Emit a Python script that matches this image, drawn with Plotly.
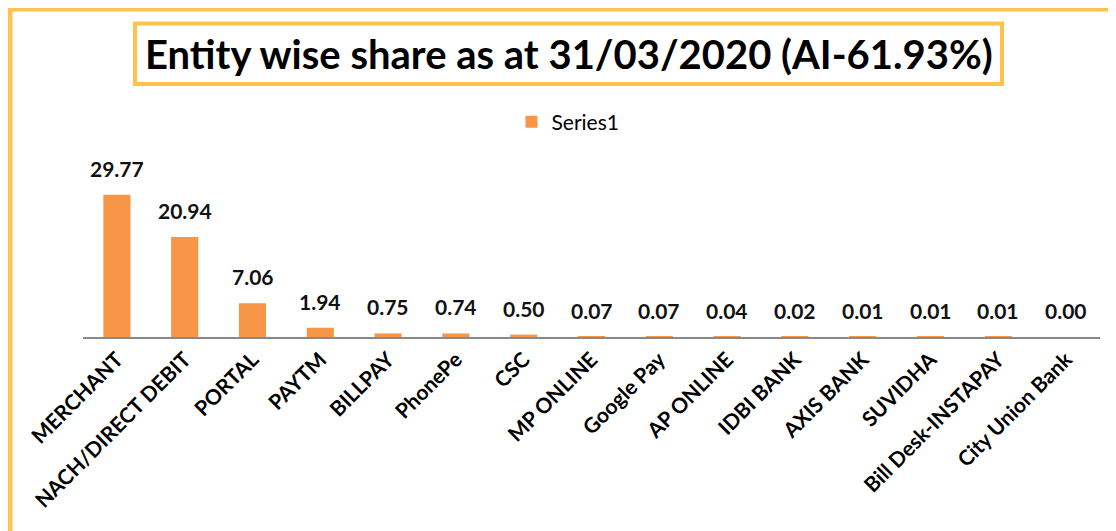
import plotly.graph_objects as go

categories = ["MERCHANT", "NACH/DIRECT DEBIT", "PORTAL", "PAYTM", "BILLPAY", "PhonePe", "CSC",
              "MP ONLINE", "Google Pay", "AP ONLINE", "IDBI BANK", "AXIS BANK", "SUVIDHA",
              "Bill Desk-INSTAPAY", "City Union Bank"]
values = [29.77, 20.94, 7.06, 1.94, 0.75, 0.74, 0.50, 0.07, 0.07, 0.04, 0.02, 0.01, 0.01, 0.01, 0.00]
series_name = "Series1"
title_text = "Entity wise share as at 31/03/2020 (AI-61.93%)"

# figure is placed by the page at an 8px body margin
W, H = 1108, 523
ML, MR, MT, MB = 75, 16, 138, 194
PW = W - ML - MR
PH = H - MT - MB

def px_x(p):
    return (p - ML) / PW

def px_y(p):
    return (H - MB - p) / PH

FONT = "Lato, Carlito, Calibri, sans-serif"
BORDER = "#FFC34D"

fig = go.Figure()
fig.add_trace(go.Bar(
    x=categories, y=values, name=series_name,
    marker=dict(color="#F79646", line=dict(width=0)),
    showlegend=True,
))

annotations = []
for c, v in zip(categories, values):
    annotations.append(dict(
        x=c, y=v, xref="x", yref="y", text=f"<b>{v:.2f}</b>", showarrow=False,
        yanchor="bottom", yshift=12, font=dict(family=FONT, size=21, color="#111111"),
    ))

annotations.append(dict(
    x=px_x(561), y=px_y(46), xref="paper", yref="paper", text=f"<b>{title_text}</b>",
    showarrow=False, xanchor="center", yanchor="middle",
    font=dict(family=FONT, size=40, color="#000000"),
))

shapes = [
    dict(type="rect", xref="paper", yref="paper",
         x0=px_x(2), x1=px_x(1130), y0=px_y(1), y1=px_y(560),
         line=dict(color=BORDER, width=5), fillcolor="rgba(0,0,0,0)", layer="below"),
    dict(type="rect", xref="paper", yref="paper",
         x0=px_x(127), x1=px_x(994), y0=px_y(15.5), y1=px_y(76),
         line=dict(color=BORDER, width=4), fillcolor="rgba(0,0,0,0)"),
]

fig.update_layout(
    width=W, height=H,
    margin=dict(l=ML, r=MR, t=MT, b=MB, autoexpand=False),
    paper_bgcolor="white", plot_bgcolor="white",
    bargap=0.6,
    font=dict(family=FONT, size=21, color="#000000"),
    showlegend=True,
    legend=dict(orientation="h", x=px_x(560), y=px_y(114), xanchor="center", yanchor="middle",
                font=dict(family=FONT, size=21, color="#000000"), itemwidth=30,
                bgcolor="rgba(0,0,0,0)"),
    xaxis=dict(tickangle=-45, showgrid=False, showline=True, linecolor="#898989", linewidth=2,
               ticks="", tickfont=dict(family=FONT, size=21, color="#000000"),
               tickprefix="<b>", ticksuffix="</b>"),
    yaxis=dict(range=[0, 40], visible=False, showgrid=False, zeroline=False),
    annotations=annotations,
    shapes=shapes,
)

fig.write_html("out.html")
